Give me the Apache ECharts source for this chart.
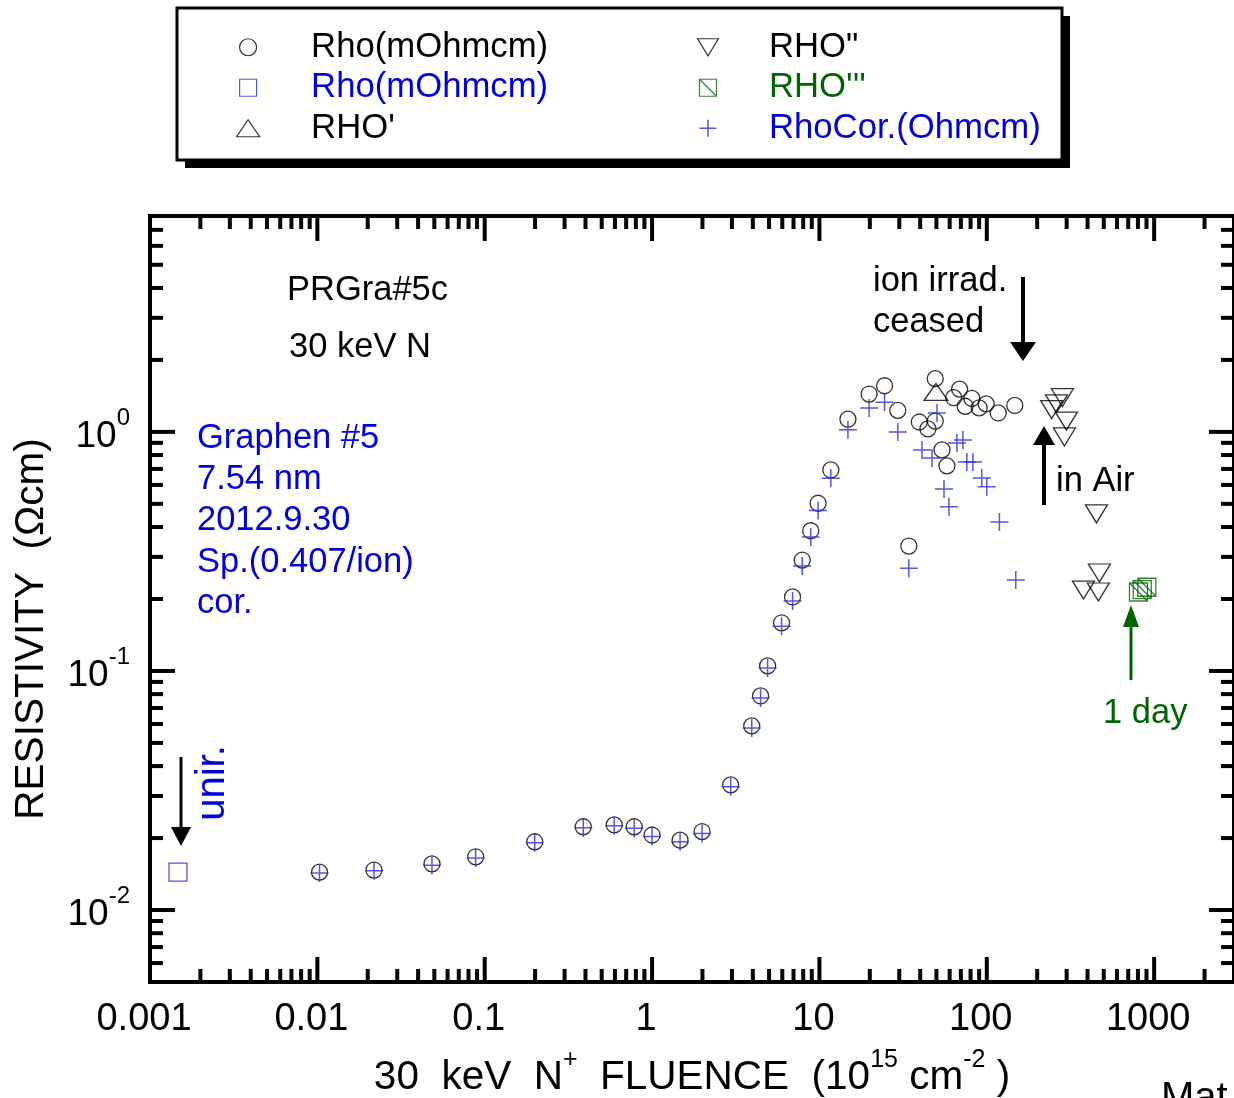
<!DOCTYPE html>
<html><head><meta charset="utf-8">
<script src="https://cdn.jsdelivr.net/npm/echarts@6/dist/echarts.min.js"></script>
<style>html,body{margin:0;padding:0;background:#fff}#c{width:1234px;height:1098px}</style>
</head><body><div id="c"></div>
<script>
const FONT = '"Liberation Sans", Arial, Helvetica, sans-serif';
const BLUE_TXT = '#0000dd';
const BLUE_MK = '#2a2ae0';
const GREEN = '#006400';

// ---- data (fluence in 1e15 cm^-2, resistivity in Ohm cm) ----
const fluenceRho = [0.0103, 0.0218, 0.0484, 0.0883, 0.199, 0.388, 0.594, 0.782, 1.0, 1.47, 1.99, 2.95, 3.94, 4.45, 4.90, 5.94, 6.91, 7.89, 8.87, 9.82, 11.7, 14.8, 19.8, 24.5, 29.4, 34.2, 39.5, 44.5, 49.2, 49.2, 54.0, 57.8, 63.4, 68.8, 74.3, 81.4, 90.0, 99.1, 117, 147];
const rho = [0.0144, 0.0147, 0.0156, 0.0167, 0.0193, 0.0223, 0.0227, 0.0223, 0.0206, 0.0196, 0.0213, 0.0334, 0.0589, 0.0786, 0.105, 0.159, 0.204, 0.291, 0.386, 0.503, 0.693, 1.13, 1.44, 1.56, 1.23, 0.333, 1.10, 1.03, 1.11, 1.67, 0.841, 0.721, 1.39, 1.51, 1.28, 1.38, 1.26, 1.31, 1.20, 1.29];

const fluenceUnirr = [0.00147];
const rhoUnirr = [0.0144];

const fluenceRho1 = [49.7];
const rho1 = [1.47];

const fluenceRho2 = [283, 261, 244, 299, 291, 452, 471, 378, 464];
const rho2 = [1.39, 1.31, 1.24, 1.11, 0.953, 0.454, 0.257, 0.218, 0.214];

const fluenceRho3 = [904, 849, 806];
const rho3 = [0.224, 0.219, 0.214];

const fluenceCor = [0.0103, 0.0218, 0.0484, 0.0883, 0.199, 0.388, 0.594, 0.782, 1.0, 1.47, 1.99, 2.95, 3.94, 4.45, 4.90, 5.94, 6.91, 7.89, 8.87, 9.82, 11.7, 14.8, 19.8, 24.5, 29.4, 34.2, 41.0, 47.1, 50.4, 55.5, 59.4, 66.3, 72.0, 76.0, 82.6, 93.3, 100, 119, 149];
const rhoCor = [0.0143, 0.0146, 0.0154, 0.0165, 0.0191, 0.0221, 0.0225, 0.0220, 0.0203, 0.0193, 0.0209, 0.0328, 0.0577, 0.0771, 0.103, 0.154, 0.196, 0.275, 0.363, 0.469, 0.640, 1.02, 1.26, 1.33, 1.00, 0.269, 0.841, 0.778, 1.20, 0.577, 0.486, 0.899, 0.926, 0.749, 0.749, 0.642, 0.589, 0.420, 0.240];

const xTickLabels = ['0.001', '0.01', '0.1', '1', '10', '100', '1000'];
const xTickDecades = [-3, -2, -1, 0, 1, 2, 3];
const yTickLabels = ['-2', '-1', '0'];
const yTickDecades = [-2, -1, 0];

const X_MIN = 0.001, X_MAX = 3000, Y_MIN = 0.005, Y_MAX = 8;

// ---- helpers ----
function pts(xs, ys) { return xs.map((x, i) => [x, ys[i]]); }
function decadeIndex(v, decs) {
  const l = Math.log10(v), e = Math.round(l);
  if (Math.abs(l - e) > 1e-6) return -1;
  return decs.indexOf(e);
}
const xTicks = [], yTicks = [];
xTickDecades.forEach(e => { for (let k = 1; k <= 9; k++) { const v = k * Math.pow(10, e); if (v > X_MIN * 1.0001 && v < X_MAX * 0.999) xTicks.push([v, 1, k === 1 ? 1 : 0]); } });
[-3].concat(yTickDecades).forEach(e => { for (let k = 1; k <= 9; k++) { const v = k * Math.pow(10, e); if (v > Y_MIN * 1.0001 && v < Y_MAX * 0.999) yTicks.push([1, v, k === 1 ? 1 : 0]); } });

const sym = {
  circle: 'circle',
  square: 'path://M0,0L20,0L20,20L0,20Z',
  up: 'path://M11.5,0L23,17L0,17Z',
  down: 'path://M0,0L22,0L11,18Z',
  sqDiag: 'path://M0,0L20,0L20,20L0,20ZM0,0L20,20',
  plus: 'path://M0,10L20,10M10,0L10,20'
};
const clear = 'rgba(0,0,0,0)';

const chart = echarts.init(document.getElementById('c'), null, { renderer: 'canvas' });

const legendText = { fontFamily: FONT, fontSize: 34.7, lineHeight: 40.5, color: '#000' };

const option = {
  animation: false,
  backgroundColor: '#fff',
  grid: { left: 150, top: 216, width: 1088, height: 766, show: true, borderColor: '#000', borderWidth: 4, backgroundColor: clear },
  xAxis: {
    type: 'log', logBase: 10, min: X_MIN, max: X_MAX,
    axisLine: { show: false }, axisTick: { show: false }, splitLine: { show: false }, minorTick: { show: false },
    axisLabel: {
      interval: 0, margin: 19, color: '#000', fontFamily: FONT, fontSize: 38, padding: [0, 12, 0, 0],
      showMinLabel: true, showMaxLabel: false,
      formatter: v => { const i = decadeIndex(v, xTickDecades); return i < 0 ? '' : xTickLabels[i]; }
    }
  },
  yAxis: {
    type: 'log', logBase: 10, min: Y_MIN, max: Y_MAX,
    axisLine: { show: false }, axisTick: { show: false }, splitLine: { show: false }, minorTick: { show: false },
    axisLabel: {
      interval: 0, margin: 20, color: '#000', fontFamily: FONT, padding: [10, 0, 0, 0],
      showMinLabel: false, showMaxLabel: false,
      formatter: v => { const i = decadeIndex(v, yTickDecades); return i < 0 ? '' : '{b|10}{s|' + yTickLabels[i] + '}'; },
      rich: {
        b: { fontSize: 37, fontFamily: FONT, color: '#000', lineHeight: 40 },
        s: { fontSize: 24, fontFamily: FONT, color: '#000', lineHeight: 24, padding: [0, 0, 38, 0] }
      }
    }
  },
  legend: [
    {
      orient: 'vertical', left: 236, top: 27, padding: 0, itemGap: 0, itemWidth: 116, itemHeight: 17,
      selectedMode: false, z: 20, symbolKeepAspect: true,
      textStyle: legendText,
      formatter: n => n.replace('#2', ''),
      data: [
        { name: 'Rho(mOhmcm)', icon: sym.circle, itemStyle: { color: clear, borderColor: '#000', borderWidth: 1.2 }, textStyle: { color: '#000' } },
        { name: 'Rho(mOhmcm)#2', icon: sym.square, itemStyle: { color: clear, borderColor: BLUE_MK, borderWidth: 1.2 }, textStyle: { color: BLUE_TXT } },
        { name: "RHO'", icon: sym.up, itemStyle: { color: clear, borderColor: '#000', borderWidth: 1.2 }, textStyle: { color: '#000' } }
      ]
    },
    {
      orient: 'vertical', left: 697, top: 27, padding: 0, itemGap: 0, itemWidth: 112, itemHeight: 17,
      selectedMode: false, z: 20, symbolKeepAspect: true,
      textStyle: legendText,
      data: [
        { name: 'RHO"', icon: sym.down, itemStyle: { color: clear, borderColor: '#000', borderWidth: 1.2 }, textStyle: { color: '#000' } },
        { name: "RHO'''", icon: sym.sqDiag, itemStyle: { color: clear, borderColor: GREEN, borderWidth: 1.2 }, textStyle: { color: GREEN } },
        { name: 'RhoCor.(Ohmcm)', icon: sym.plus, itemStyle: { color: clear, borderColor: BLUE_MK, borderWidth: 1.5 }, textStyle: { color: BLUE_TXT } }
      ]
    }
  ],
  graphic: [
    // legend frame with drop shadow
    { type: 'rect', z: 1, shape: { x: 185, y: 16, width: 885, height: 152 }, style: { fill: '#000' } },
    { type: 'rect', z: 2, shape: { x: 177, y: 8, width: 885, height: 152 }, style: { fill: '#fff', stroke: '#000', lineWidth: 3 } },
    // annotations
    { type: 'text', z: 10, x: 287, y: 290, style: { text: 'PRGra#5c', fill: '#000', fontSize: 34.5, fontFamily: FONT, verticalAlign: 'middle' } },
    { type: 'text', z: 10, x: 289, y: 347, style: { text: '30 keV N', fill: '#000', fontSize: 34.5, fontFamily: FONT, verticalAlign: 'middle' } },
    { type: 'text', z: 10, x: 873, y: 281, style: { text: 'ion irrad.', fill: '#000', fontSize: 34.5, fontFamily: FONT, verticalAlign: 'middle' } },
    { type: 'text', z: 10, x: 873, y: 322, style: { text: 'ceased', fill: '#000', fontSize: 34.5, fontFamily: FONT, verticalAlign: 'middle' } },
    { type: 'text', z: 10, x: 197, y: 438, style: { text: 'Graphen #5', fill: BLUE_TXT, fontSize: 34.5, fontFamily: FONT, verticalAlign: 'middle' } },
    { type: 'text', z: 10, x: 197, y: 479, style: { text: '7.54 nm', fill: BLUE_TXT, fontSize: 34.5, fontFamily: FONT, verticalAlign: 'middle' } },
    { type: 'text', z: 10, x: 197, y: 520, style: { text: '2012.9.30', fill: BLUE_TXT, fontSize: 34.5, fontFamily: FONT, verticalAlign: 'middle' } },
    { type: 'text', z: 10, x: 197, y: 562, style: { text: 'Sp.(0.407/ion)', fill: BLUE_TXT, fontSize: 34.5, fontFamily: FONT, verticalAlign: 'middle' } },
    { type: 'text', z: 10, x: 197, y: 603, style: { text: 'cor.', fill: BLUE_TXT, fontSize: 34.5, fontFamily: FONT, verticalAlign: 'middle' } },
    { type: 'text', z: 10, x: 1056, y: 481, style: { text: 'in Air', fill: '#000', fontSize: 34.5, fontFamily: FONT, verticalAlign: 'middle' } },
    { type: 'text', z: 10, x: 1103, y: 713, style: { text: '1 day', fill: GREEN, fontSize: 34.5, fontFamily: FONT, verticalAlign: 'middle' } },
    { type: 'text', z: 10, x: 213, y: 783, rotation: Math.PI / 2, style: { text: 'unir.', fill: BLUE_TXT, fontSize: 40, fontFamily: FONT, align: 'center', verticalAlign: 'middle' } },
    { type: 'text', z: 10, x: 1161, y: 1079, style: { text: 'Mat', fill: '#000', fontSize: 40, fontFamily: FONT, verticalAlign: 'top' } },
    // axis names
    { type: 'text', z: 10, x: 32, y: 629, rotation: Math.PI / 2, style: { text: 'RESISTIVITY  (\u03A9cm)', fill: '#000', fontSize: 40.5, fontFamily: FONT, align: 'center', verticalAlign: 'middle' } },
    { type: 'text', z: 10, x: 692, y: 1078, style: {
      text: '30  keV  N{s|+}  FLUENCE  (10{s|15} cm{s|-2} )', fill: '#000', fontSize: 40.5, fontFamily: FONT, align: 'center', verticalAlign: 'middle',
      rich: { s: { fontSize: 25, fontFamily: FONT, lineHeight: 25, padding: [0, 0, 36, 0] } }
    } },
    // arrows
    { type: 'line', z: 10, shape: { x1: 1023, y1: 277, x2: 1023, y2: 345 }, style: { stroke: '#000', lineWidth: 4 } },
    { type: 'polygon', z: 10, shape: { points: [[1010, 342], [1036, 342], [1023, 361]] }, style: { fill: '#000' } },
    { type: 'line', z: 10, shape: { x1: 1044, y1: 505, x2: 1044, y2: 440 }, style: { stroke: '#000', lineWidth: 4 } },
    { type: 'polygon', z: 10, shape: { points: [[1033, 445], [1055, 445], [1044, 426]] }, style: { fill: '#000' } },
    { type: 'line', z: 10, shape: { x1: 181, y1: 757, x2: 181, y2: 832 }, style: { stroke: '#000', lineWidth: 3 } },
    { type: 'polygon', z: 10, shape: { points: [[171, 827], [191, 827], [181, 846]] }, style: { fill: '#000' } },
    { type: 'line', z: 10, shape: { x1: 1131, y1: 680, x2: 1131, y2: 622 }, style: { stroke: GREEN, lineWidth: 3 } },
    { type: 'polygon', z: 10, shape: { points: [[1123, 627], [1139, 627], [1131, 605]] }, style: { fill: GREEN } }
  ],
  series: [
    { name: 'Rho(mOhmcm)', type: 'scatter', data: pts(fluenceRho, rho), symbol: sym.circle, symbolSize: 16,
      itemStyle: { color: clear, borderColor: '#000', borderWidth: 1.3 }, z: 4 },
    { name: 'Rho(mOhmcm)#2', type: 'scatter', data: pts(fluenceUnirr, rhoUnirr), symbol: sym.square, symbolSize: 18,
      itemStyle: { color: clear, borderColor: BLUE_MK, borderWidth: 1.3 }, z: 4 },
    { name: "RHO'", type: 'scatter', data: pts(fluenceRho1, rho1), symbol: sym.up, symbolSize: [24, 17],
      itemStyle: { color: clear, borderColor: '#000', borderWidth: 1.3 }, z: 4 },
    { name: 'RHO"', type: 'scatter', data: pts(fluenceRho2, rho2), symbol: sym.down, symbolSize: [22, 18],
      itemStyle: { color: clear, borderColor: '#000', borderWidth: 1.3 }, z: 4 },
    { name: "RHO'''", type: 'scatter', data: pts(fluenceRho3, rho3), symbol: sym.sqDiag, symbolSize: 18,
      itemStyle: { color: clear, borderColor: GREEN, borderWidth: 1.3 }, z: 4 },
    { name: 'RhoCor.(Ohmcm)', type: 'scatter', data: pts(fluenceCor, rhoCor), symbol: sym.plus, symbolSize: 18,
      itemStyle: { color: clear, borderColor: BLUE_MK, borderWidth: 1.5 }, z: 5 },
    { name: 'xticks', type: 'custom', silent: true, clip: false, z: 6, data: xTicks, encode: { x: 0, y: 1 },
      renderItem: (params, api) => {
        const cs = params.coordSys; const px = api.coord([api.value(0), 1])[0];
        const len = api.value(2) ? 25 : 13; const yb = cs.y + cs.height, yt = cs.y;
        return { type: 'group', children: [
          { type: 'line', shape: { x1: px, y1: yb, x2: px, y2: yb - len }, style: { stroke: '#000', lineWidth: 4 } },
          { type: 'line', shape: { x1: px, y1: yt, x2: px, y2: yt + len }, style: { stroke: '#000', lineWidth: 4 } }
        ] };
      } },
    { name: 'yticks', type: 'custom', silent: true, clip: false, z: 6, data: yTicks, encode: { x: 0, y: 1 },
      renderItem: (params, api) => {
        const cs = params.coordSys; const py = api.coord([1, api.value(1)])[1];
        const len = api.value(2) ? 25 : 13; const xl = cs.x, xr = cs.x + cs.width;
        return { type: 'group', children: [
          { type: 'line', shape: { x1: xl, y1: py, x2: xl + len, y2: py }, style: { stroke: '#000', lineWidth: 4 } },
          { type: 'line', shape: { x1: xr, y1: py, x2: xr - len, y2: py }, style: { stroke: '#000', lineWidth: 4 } }
        ] };
      } }
  ]
};
chart.setOption(option);
</script>
</body></html>
